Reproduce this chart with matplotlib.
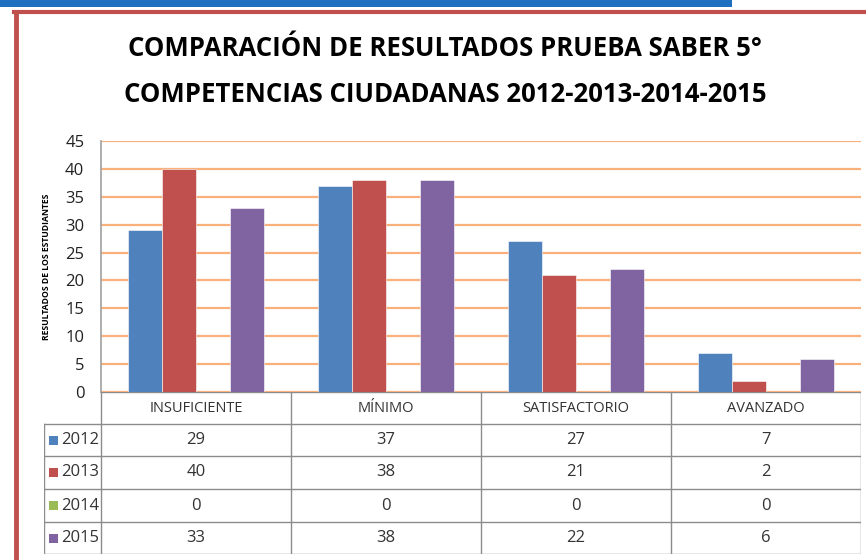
"""
plot.py - Saber 5 competencias ciudadanas, bar chart with data table
"""
import matplotlib
matplotlib.use("Agg")
import matplotlib.pyplot as plt
from matplotlib.patches import Rectangle
from matplotlib.lines import Line2D

plt.rcParams['font.family'] = ['Open Sans', 'DejaVu Sans']

# ── data ──────────────────────────────────────────────────────────────────────
categories = ["INSUFICIENTE", "MÍNIMO", "SATISFACTORIO", "AVANZADO"]
years = ["2012", "2013", "2014", "2015"]
v2012 = [29, 37, 27, 7]
v2013 = [40, 38, 21, 2]
v2014 = [0, 0, 0, 0]
v2015 = [33, 38, 22, 6]
series = [v2012, v2013, v2014, v2015]
colors = ['#4F81BD', '#C0504D', '#9BBB59', '#8064A2']

W, H = 866, 560
fig = plt.figure(figsize=(W / 100, H / 100), dpi=100)
fig.patch.set_facecolor('white')

def fx(px):
    return px / W

def fy(py):
    return 1 - py / H

# frame decorations
fig.add_artist(Rectangle((0, fy(7)), fx(732), fy(0) - fy(7), transform=fig.transFigure,
                         color='#1F6FC0', lw=0))
fig.add_artist(Line2D([fx(14), 1], [fy(12), fy(12)], transform=fig.transFigure,
                      color='#C0504D', lw=3))
fig.add_artist(Line2D([fx(16), fx(16)], [fy(12), 0], transform=fig.transFigure,
                      color='#C0504D', lw=3.5))

# title
fig.text(fx(445), fy(48), "COMPARACIÓN DE RESULTADOS PRUEBA SABER 5°",
         ha='center', va='center', fontsize=18.5, fontweight='bold', color='#000000')
fig.text(fx(445), fy(94), "COMPETENCIAS CIUDADANAS 2012-2013-2014-2015",
         ha='center', va='center', fontsize=18.5, fontweight='bold', color='#000000')

# ── bar chart ─────────────────────────────────────────────────────────────────
left, right, top, zero = 101, 861, 141, 392
ax = fig.add_axes([fx(left), fy(zero), fx(right - left), fy(top) - fy(zero)])
bw = 0.18
x = range(len(categories))
for i, (vals, c) in enumerate(zip(series, colors)):
    pos = [k + (i - 1.5) * bw for k in x]
    ax.bar(pos, vals, width=bw, color=c, edgecolor='white', linewidth=0.4, zorder=3)

ax.set_xlim(-0.5, len(categories) - 0.5)
ax.set_ylim(0, 45)
ax.set_yticks(range(0, 46, 5))
ax.tick_params(axis='y', length=0, labelsize=12, colors='#222222', pad=12)
ax.set_xticks([])
ax.grid(axis='y', color='#FAB07A', lw=1.6, zorder=1)
for s in ['top', 'right', 'bottom']:
    ax.spines[s].set_visible(False)
ax.spines['left'].set_color('#A0A0A0')
ax.spines['left'].set_linewidth(1.2)
ax.set_ylabel("RESULTADOS DE LOS ESTUDIANTES", fontsize=6.2, fontweight='bold', labelpad=10)

# ── data table ────────────────────────────────────────────────────────────────
tleft, tbot, hdr = 44, 554, 424
rows_y = [424, 456, 489, 522, 554]
tab = fig.add_axes([fx(tleft), fy(tbot), fx(right - tleft), fy(zero) - fy(tbot)])
tab.set_xlim(tleft, right)
tab.set_ylim(tbot, zero)
tab.axis('off')

cat_w = (right - left) / len(categories)
edges = [left + k * cat_w for k in range(len(categories) + 1)]
lc = '#8C8C8C'
tab.plot([left, right], [zero, zero], color=lc, lw=1)
for e in edges:
    tab.plot([e, e], [zero, tbot], color=lc, lw=1)
tab.plot([tleft, tleft], [hdr, tbot], color=lc, lw=1)
for yy in rows_y:
    tab.plot([tleft, right], [yy, yy], color=lc, lw=1)
for k, cat in enumerate(categories):
    tab.text((edges[k] + edges[k + 1]) / 2, (zero + hdr) / 2, cat,
             ha='center', va='center', fontsize=10.5, color='#333333')
for r, (yr, vals, c) in enumerate(zip(years, series, colors)):
    yc = (rows_y[r] + rows_y[r + 1]) / 2
    tab.add_patch(Rectangle((tleft + 5, yc - 4.5), 9, 9, color=c, lw=0))
    tab.text(tleft + 17, yc, yr, ha='left', va='center', fontsize=12, color='#333333')
    for k, v in enumerate(vals):
        tab.text((edges[k] + edges[k + 1]) / 2, yc, str(v),
                 ha='center', va='center', fontsize=12, color='#333333')

fig.savefig("out.png", dpi=100)
